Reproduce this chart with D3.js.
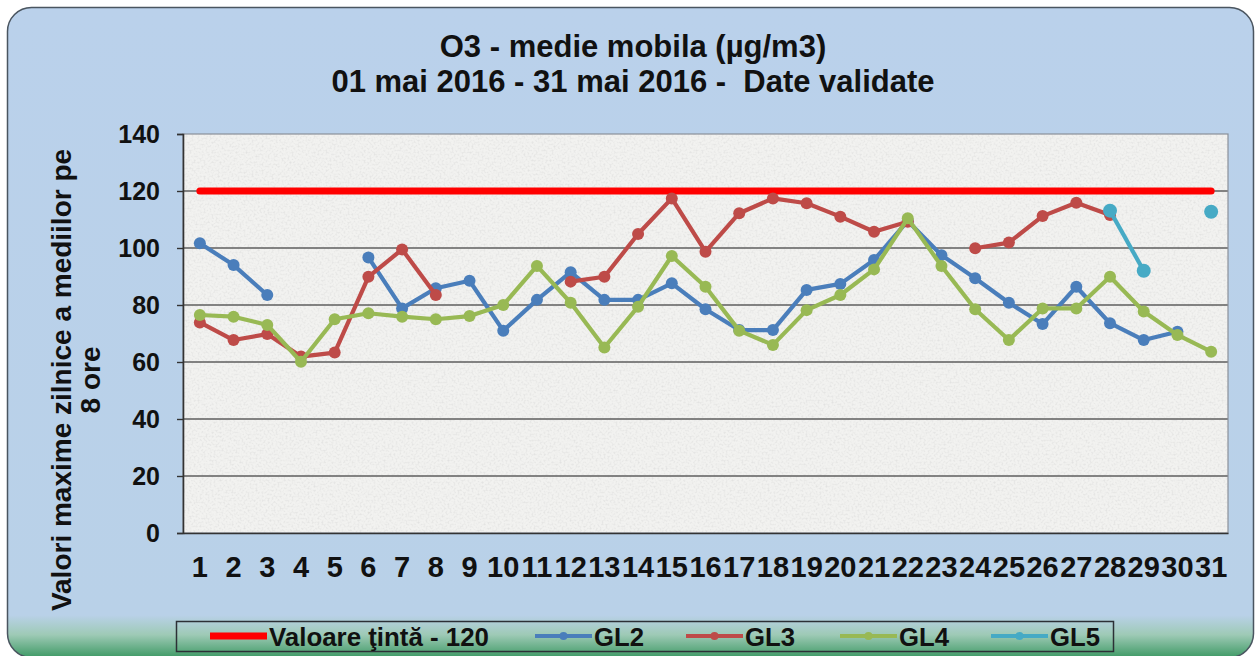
<!DOCTYPE html>
<html>
<head>
<meta charset="utf-8">
<script src="https://cdnjs.cloudflare.com/ajax/libs/d3/7.8.5/d3.min.js"></script>
<style>
  html, body { margin: 0; padding: 0; background: #ffffff; }
  svg { display: block; }
  text { font-family: "Liberation Sans", Arial, sans-serif; font-weight: bold; fill: #111; }
</style>
</head>
<body>
<div id="chart"></div>
<script>
// days of May 2016
const days = d3.range(1, 32);
const yTicks = [0, 20, 40, 60, 80, 100, 120, 140];

// daily max of 8h moving average (null = no data)
const target = days.map(() => 120);
const gl2 = [101.7, 94, 83.5, null, null, 96.7, 78.8, 85.9, 88.5, 71, 81.8, 91.5, 81.8, 81.8, 87.6, 78.5,
             71.2, 71.2, 85.3, 87.4, 95.8, 109.5, 97.5, 89.4, 80.8, 73.3, 86.4, 73.6, 67.7, 70.6, null];
const gl3 = [73.9, 67.7, 69.8, 61.9, 63.3, 89.9, 99.5, 83.5, null, null, null, 88.2, 89.9, 104.9, 117.4, 98.7,
             112.2, 117.4, 115.7, 111, 105.7, 109.2, null, 99.9, 101.9, 111.2, 115.9, 111.6, null, null, null];
const gl4 = [76.5, 75.9, 73, 60.1, 75, 77.1, 75.9, 75, 76.1, 80, 93.7, 80.8, 65.1, 79.4, 97.2, 86.4,
             71, 66, 78.2, 83.5, 92.5, 110.4, 93.7, 78.5, 67.7, 78.8, 78.8, 89.9, 77.7, 69.5, 63.6];
const gl5 = [null, null, null, null, null, null, null, null, null, null, null, null, null, null, null, null,
             null, null, null, null, null, null, null, null, null, null, null, 113.1, 92, null, 112.7];

const seriesNames = ["GL2", "GL3", "GL4", "GL5"];
const seriesValues = [gl2, gl3, gl4, gl5];
const seriesColors = ["#4a7ebb", "#be4b48", "#98b954", "#46aac5"];
const targetName = "Valoare ţintă - 120";

const W = 1256, H = 656;
const plot = { left: 183, right: 1228, top: 134, bottom: 533 };

const svg = d3.select("#chart").append("svg").attr("width", W).attr("height", H);
const defs = svg.append("defs");

const bg = defs.append("linearGradient").attr("id", "bgGrad")
  .attr("x1", 0).attr("y1", 0).attr("x2", 0).attr("y2", 1);
bg.append("stop").attr("offset", "0%").attr("stop-color", "#bad1eb");
bg.append("stop").attr("offset", "93.5%").attr("stop-color", "#b9d1e8");
bg.append("stop").attr("offset", "96.5%").attr("stop-color", "#9ecab6");
bg.append("stop").attr("offset", "100%").attr("stop-color", "#3f9a66");

const noise = defs.append("filter").attr("id", "noise")
  .attr("x", 0).attr("y", 0).attr("width", "100%").attr("height", "100%");
noise.append("feTurbulence").attr("type", "fractalNoise")
  .attr("baseFrequency", 0.5).attr("numOctaves", 3).attr("seed", 7).attr("result", "t");
noise.append("feColorMatrix").attr("in", "t").attr("type", "matrix")
  .attr("values", "0 0 0 0 0.6  0 0 0 0 0.6  0 0 0 0 0.6  1.8 0 0 0 -0.8");
noise.append("feComposite").attr("in2", "SourceGraphic").attr("operator", "in");

// outer panel
svg.append("rect")
  .attr("x", 7.5).attr("y", 7.5).attr("width", W - 10).attr("height", 650)
  .attr("rx", 24).attr("ry", 24)
  .attr("fill", "url(#bgGrad)").attr("stroke", "#4a5560").attr("stroke-width", 1.5);

// title
const title = svg.append("text").attr("text-anchor", "middle").style("font-size", "31px");
title.append("tspan").attr("x", 633).attr("y", 57).text("O3 - medie mobila (µg/m3)");
title.append("tspan").attr("x", 633).attr("y", 92).attr("xml:space", "preserve")
  .text("01 mai 2016 - 31 mai 2016 -  Date validate");

// scales
const x = d3.scaleBand().domain(days).range([plot.left, plot.right]).padding(0);
const cx = d => x(d) + x.bandwidth() / 2;
const y = d3.scaleLinear().domain([0, 140]).range([plot.bottom, plot.top]);

// plot area
svg.append("rect")
  .attr("x", plot.left).attr("y", plot.top)
  .attr("width", plot.right - plot.left).attr("height", plot.bottom - plot.top)
  .attr("fill", "#f2f2f0");
svg.append("rect")
  .attr("x", plot.left).attr("y", plot.top)
  .attr("width", plot.right - plot.left).attr("height", plot.bottom - plot.top)
  .attr("fill", "#ffffff").attr("filter", "url(#noise)").attr("opacity", 0.55);

// gridlines
svg.append("g").selectAll("line")
  .data(yTicks.filter(t => t > 0 && t < 140))
  .join("line")
  .attr("x1", plot.left).attr("x2", plot.right)
  .attr("y1", d => y(d)).attr("y2", d => y(d))
  .attr("stroke", "#5e5e5e").attr("stroke-width", 1.6);

// frame
svg.append("rect")
  .attr("x", plot.left).attr("y", plot.top)
  .attr("width", plot.right - plot.left).attr("height", plot.bottom - plot.top)
  .attr("fill", "none").attr("stroke", "#8a9099").attr("stroke-width", 1.2);

// y axis
const yAxis = d3.axisLeft(y).tickValues(yTicks).tickSize(6).tickPadding(17);
const gy = svg.append("g").attr("transform", `translate(${plot.left},0)`).call(yAxis);
gy.select(".domain").attr("stroke", "#333").attr("stroke-width", 1.6);
gy.selectAll(".tick line").attr("stroke", "#333").attr("stroke-width", 1.4);
gy.selectAll(".tick text").style("font-size", "25px").attr("fill", "#111")
  .style("font-family", "'Liberation Sans', Arial, sans-serif").style("font-weight", "bold");

// x axis
const xAxis = d3.axisBottom(x).tickSize(0).tickPadding(23);
const gx = svg.append("g").attr("transform", `translate(0,${plot.bottom})`).call(xAxis);
gx.select(".domain").attr("stroke", "#333").attr("stroke-width", 1.6);
gx.selectAll(".tick text").style("font-size", "29px").attr("fill", "#111")
  .style("font-family", "'Liberation Sans', Arial, sans-serif").style("font-weight", "bold");

// y title
const yt = svg.append("text").attr("text-anchor", "middle")
  .attr("transform", "translate(0,380) rotate(-90)").style("font-size", "28px");
yt.append("tspan").attr("x", 0).attr("y", 71).text("Valori maxime zilnice a mediilor pe");
yt.append("tspan").attr("x", 0).attr("y", 100).text("8 ore");

// target line
const line = d3.line().defined(d => d[1] != null).x(d => cx(d[0])).y(d => y(d[1]));
svg.append("path")
  .datum(days.map((d, i) => [d, target[i]]))
  .attr("d", line).attr("fill", "none")
  .attr("stroke", "#ff0000").attr("stroke-width", 7).attr("stroke-linecap", "round");

// series
seriesValues.forEach((vals, si) => {
  const pts = days.map((d, i) => [d, vals[i]]);
  const g = svg.append("g");
  g.append("path").datum(pts).attr("d", line).attr("fill", "none")
    .attr("stroke", seriesColors[si]).attr("stroke-width", 4.2).attr("stroke-linejoin", "round");
  g.selectAll("circle").data(pts.filter(p => p[1] != null)).join("circle")
    .attr("cx", p => cx(p[0])).attr("cy", p => y(p[1])).attr("r", si === 3 ? 7 : 6)
    .attr("fill", seriesColors[si]);
});

// legend
const legend = svg.append("g");
legend.append("rect").attr("x", 176.5).attr("y", 621.5).attr("width", 937).attr("height", 30)
  .attr("fill", "none").attr("stroke", "#2c3036").attr("stroke-width", 1.5);
const legItems = [
  { name: targetName, color: "#ff0000", x: 210, tw: 220, thick: true },
  { name: seriesNames[0], color: seriesColors[0], x: 535, tw: 50 },
  { name: seriesNames[1], color: seriesColors[1], x: 686, tw: 50 },
  { name: seriesNames[2], color: seriesColors[2], x: 840, tw: 50 },
  { name: seriesNames[3], color: seriesColors[3], x: 991, tw: 50 }
];
legItems.forEach(it => {
  legend.append("line").attr("x1", it.x).attr("x2", it.x + 57).attr("y1", 636).attr("y2", 636)
    .attr("stroke", it.color).attr("stroke-width", it.thick ? 7 : 4);
  if (!it.thick) {
    legend.append("circle").attr("cx", it.x + 28.5).attr("cy", 636).attr("r", 4).attr("fill", it.color);
  }
  legend.append("text").attr("x", it.x + 59).attr("y", 646)
    .attr("textLength", it.tw).attr("lengthAdjust", "spacingAndGlyphs")
    .style("font-size", "26px").text(it.name);
});
</script>
</body>
</html>
